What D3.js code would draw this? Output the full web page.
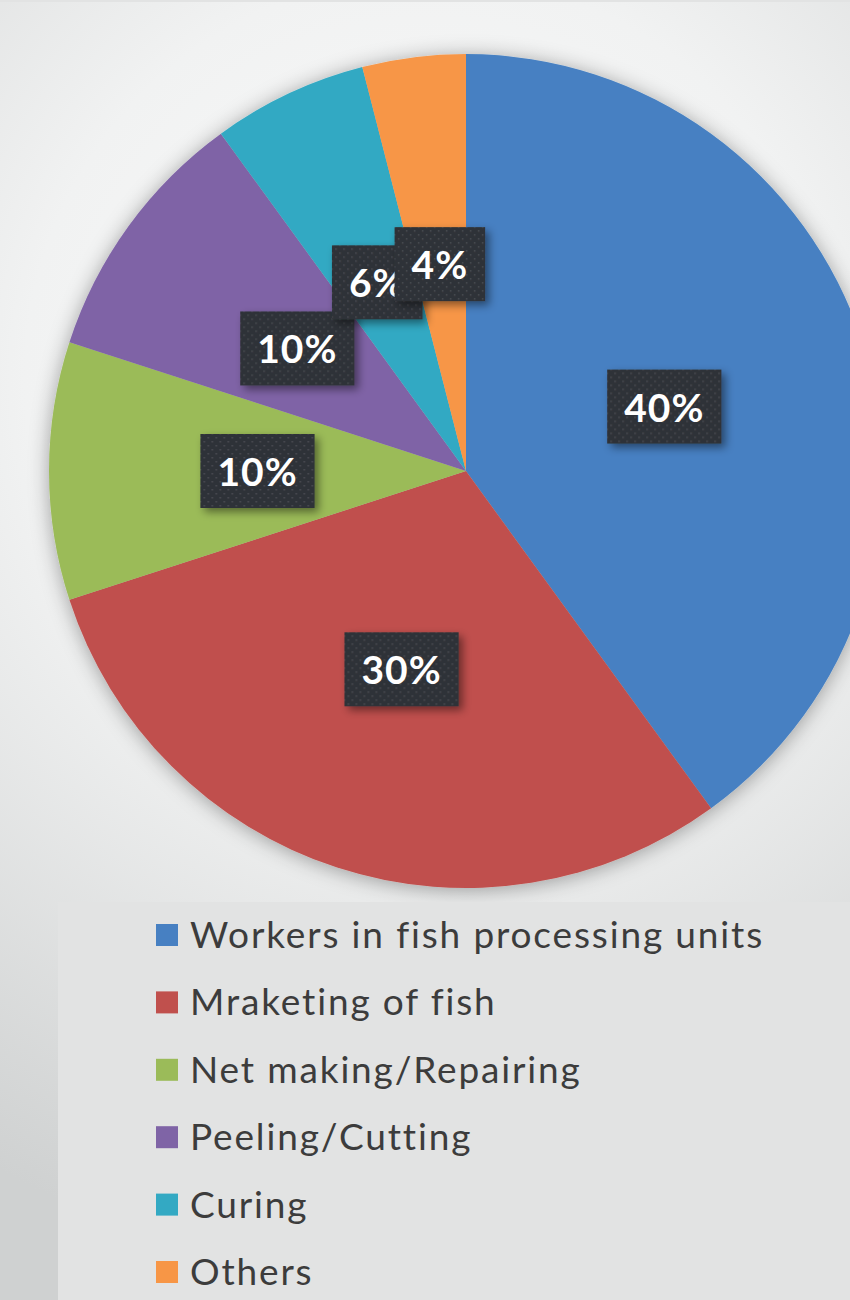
<!DOCTYPE html>
<html><head><meta charset="utf-8">
<script src="https://cdn.jsdelivr.net/npm/d3@7"></script>
<style>html,body{margin:0;padding:0;overflow:hidden;background:#fff}</style>
</head><body>
<script>
const categories = ["Workers in fish processing units","Mraketing of fish","Net making/Repairing","Peeling/Cutting","Curing","Others"];
const values = [40,30,10,10,6,4];
const labels = ["40%","30%","10%","10%","6%","4%"];
const colors = ["#4780c2","#c0504d","#9bbb59","#7f64a6","#33a9c3","#f79646"];

const W=850,H=1300;
const svg=d3.select("body").append("svg").attr("width",W).attr("height",H);
const defs=svg.append("defs");
const bg=defs.append("radialGradient").attr("id","bg").attr("gradientUnits","userSpaceOnUse")
  .attr("cx",430).attr("cy",380).attr("r",900);
bg.append("stop").attr("offset","0").attr("stop-color","#fbfbfb");
bg.append("stop").attr("offset","0.45").attr("stop-color","#f1f2f2");
bg.append("stop").attr("offset","1").attr("stop-color","#cfd1d1");
const sh=defs.append("filter").attr("id","pieShadow").attr("x","-20%").attr("y","-20%").attr("width","140%").attr("height","140%");
sh.append("feDropShadow").attr("dx",0).attr("dy",2).attr("stdDeviation",10).attr("flood-color","#000").attr("flood-opacity",0.35);
const ls=defs.append("filter").attr("id","lblShadow").attr("x","-30%").attr("y","-30%").attr("width","160%").attr("height","160%");
ls.append("feDropShadow").attr("dx",4).attr("dy",4).attr("stdDeviation",4).attr("flood-color","#000").attr("flood-opacity",0.45);
const pat=defs.append("pattern").attr("id","dots").attr("patternUnits","userSpaceOnUse").attr("width",8).attr("height",8);
pat.append("rect").attr("width",8).attr("height",8).attr("fill","#2f3237");
pat.append("rect").attr("x",2).attr("y",2).attr("width",1.5).attr("height",1.5).attr("fill","#4a4e54");
pat.append("rect").attr("x",6).attr("y",6).attr("width",1.5).attr("height",1.5).attr("fill","#4a4e54");

svg.append("rect").attr("width",W).attr("height",H).attr("fill","url(#bg)");
svg.append("rect").attr("width",W).attr("height",2).attr("fill","#e2e3e3");

const cx=466, cy=471, R=417;
const pie=d3.pie().sort(null).value(d=>d);
const arcs=pie(values);
const arc=d3.arc().innerRadius(0).outerRadius(R);
const g=svg.append("g").attr("transform",`translate(${cx},${cy})`);
g.append("g").attr("filter","url(#pieShadow)").selectAll("path").data(arcs).join("path")
  .attr("d",arc).attr("fill",(d,i)=>colors[i]);

// legend
const lg=svg.append("g");
lg.append("rect").attr("x",58).attr("y",902).attr("width",W-58).attr("height",H-902).attr("fill","#e2e3e3");
const rowY=d3.scalePoint().domain(categories).range([935,1272]);
const items=lg.selectAll("g.it").data(categories).join("g").attr("class","it")
  .attr("transform",d=>`translate(0,${rowY(d)})`);
items.append("rect").attr("x",156).attr("y",-11).attr("width",22).attr("height",22).attr("fill",(d,i)=>colors[i]);
items.append("text").attr("x",190).attr("y",13).attr("font-family","Lato, 'Open Sans', sans-serif")
  .attr("font-size",37).attr("letter-spacing",1.85).style("font-variant-ligatures","none")
  .attr("fill","#3c3c3c").text(d=>d);

// labels
const lbl=svg.append("g").attr("transform",`translate(${cx},${cy})`);
labels.forEach((lab,i)=>{
  const [x,y]=arc.centroid(arcs[i]);
  const lgp=lbl.append("g").attr("transform",`translate(${x},${y})`);
  const t=lgp.append("text").attr("text-anchor","middle").attr("dominant-baseline","central")
    .attr("font-family","Lato, 'Open Sans', sans-serif").attr("font-weight","bold").attr("font-size",39)
    .attr("letter-spacing",1).attr("fill","#fff").text(lab);
  const w=t.node().getComputedTextLength();
  lgp.insert("rect","text").attr("x",-w/2-17).attr("y",-37).attr("width",w+34).attr("height",74)
    .attr("fill","url(#dots)").attr("filter","url(#lblShadow)");
});
</script>
</body></html>
